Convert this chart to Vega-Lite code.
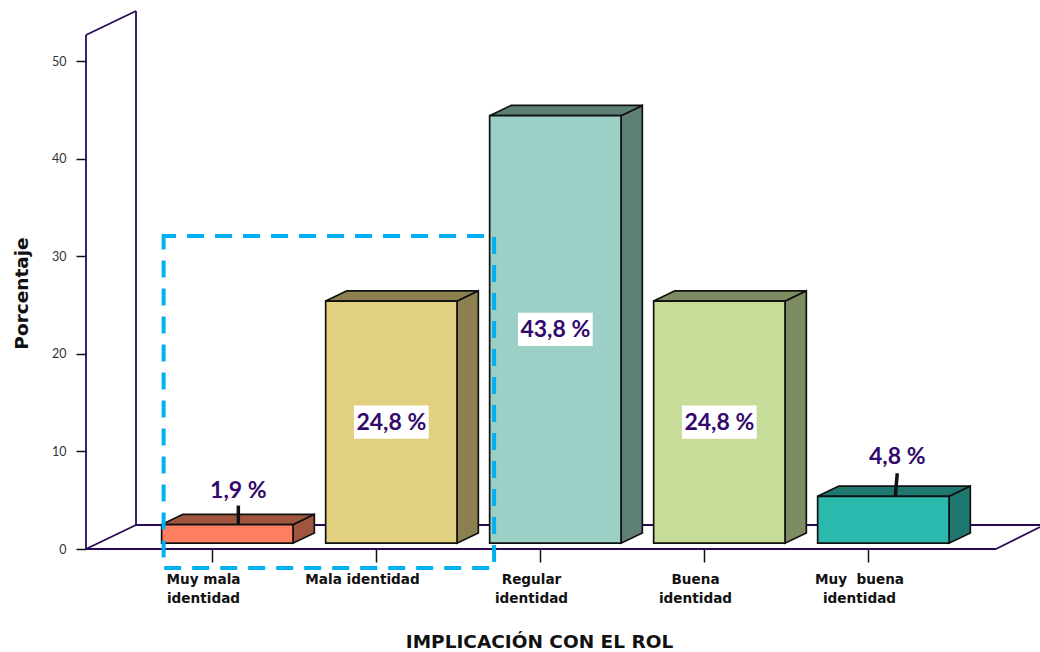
{
  "$schema": "https://vega.github.io/schema/vega-lite/v6.json",
  "width": 1040,
  "height": 652,
  "padding": 0,
  "autosize": {"type": "none"},
  "background": "white",
  "config": {"view": {"stroke": null}},
  "datasets": {
    "barras": [
      {"identidad": "Muy mala identidad", "porcentaje": 1.9},
      {"identidad": "Mala identidad", "porcentaje": 24.8},
      {"identidad": "Regular identidad", "porcentaje": 43.8},
      {"identidad": "Buena identidad", "porcentaje": 24.8},
      {"identidad": "Muy buena identidad", "porcentaje": 4.8}
    ]
  },
  "layer": [
    {
      "data": {"values": [{}]},
      "layer": [
        {
          "mark": {"type": "rule", "stroke": "#2a0a55", "strokeWidth": 1.8},
          "encoding": {
            "x": {"datum": 0.2317, "type": "quantitative"},
            "y": {"datum": 0, "type": "quantitative"},
            "y2": {"datum": 52.66}
          }
        },
        {
          "mark": {"type": "rule", "stroke": "#2a0a55", "strokeWidth": 1.8},
          "encoding": {
            "x": {"datum": 0.2317, "type": "quantitative"}, "x2": {"datum": 0.5366},
            "y": {"datum": 52.66, "type": "quantitative"}, "y2": {"datum": 55.12}
          }
        },
        {
          "mark": {"type": "rule", "stroke": "#2a0a55", "strokeWidth": 1.8},
          "encoding": {
            "x": {"datum": 0.5366, "type": "quantitative"},
            "y": {"datum": 2.459, "type": "quantitative"}, "y2": {"datum": 55.12}
          }
        },
        {
          "mark": {"type": "rule", "stroke": "#2a0a55", "strokeWidth": 1.8},
          "encoding": {
            "x": {"datum": 0.2317, "type": "quantitative"}, "x2": {"datum": 0.5366},
            "y": {"datum": 0, "type": "quantitative"}, "y2": {"datum": 2.459}
          }
        },
        {
          "mark": {"type": "rule", "stroke": "#2a0a55", "strokeWidth": 1.8},
          "encoding": {
            "x": {"datum": 0.5366, "type": "quantitative"}, "x2": {"datum": 6.0488},
            "y": {"datum": 2.459, "type": "quantitative"}
          }
        },
        {
          "mark": {"type": "rule", "stroke": "#2a0a55", "strokeWidth": 1.8},
          "encoding": {
            "x": {"datum": 0.2317, "type": "quantitative"}, "x2": {"datum": 5.7805},
            "y": {"datum": 0, "type": "quantitative"}
          }
        },
        {
          "mark": {"type": "rule", "stroke": "#2a0a55", "strokeWidth": 1.8},
          "encoding": {
            "x": {"datum": 5.7805, "type": "quantitative"}, "x2": {"datum": 6.0488},
            "y": {"datum": 0, "type": "quantitative"}, "y2": {"datum": 2.254}
          }
        }
      ]
    },
    {
      "data": {"name": "barras"},
      "transform": [
        {"window": [{"op": "row_number", "as": "orden"}]},
        {"calculate": "datum.orden - 0.307", "as": "izq"},
        {"calculate": "datum.orden + 0.494", "as": "der"},
        {"calculate": "0.6", "as": "base"},
        {"calculate": "datum.base + datum.porcentaje", "as": "tope"},
        {"calculate": "replace(format(datum.porcentaje, '.1f'), '.', ',') + ' %'", "as": "etiqueta"},
        {"calculate": "(datum.izq + datum.der) / 2", "as": "centro"},
        {"calculate": "(datum.base + datum.tope) / 2", "as": "medio"}
      ],
      "layer": [
        {
          "transform": [
            {"calculate": "[0, 1]", "as": "t"},
            {"flatten": ["t"]},
            {"calculate": "datum.der + datum.t * 0.13", "as": "fx"},
            {"calculate": "datum.tope + datum.t * 1.05", "as": "fy"},
            {"calculate": "datum.base + datum.t * 1.05", "as": "fy2"}
          ],
          "mark": {"type": "area", "stroke": "#111111", "strokeWidth": 1.7, "opacity": 1},
          "encoding": {
            "x": {"field": "fx", "type": "quantitative"},
            "y": {"field": "fy", "type": "quantitative", "stack": null},
            "y2": {"field": "fy2"},
            "color": {
              "field": "identidad", "type": "nominal", "legend": null,
              "scale": {
                "domain": ["Muy mala identidad", "Mala identidad", "Regular identidad", "Buena identidad", "Muy buena identidad"],
                "range": ["#a05540", "#8c8050", "#5e7f76", "#7e8c63", "#1e7870"]
              }
            }
          }
        },
        {
          "transform": [
            {"calculate": "[0, 1]", "as": "t"},
            {"flatten": ["t"]},
            {"calculate": "datum.izq + datum.t * 0.13", "as": "fx"},
            {"calculate": "datum.der + datum.t * 0.13", "as": "fx2"},
            {"calculate": "datum.tope + datum.t * 1.05", "as": "fy"}
          ],
          "mark": {"type": "area", "orient": "horizontal", "stroke": "#111111", "strokeWidth": 1.7, "opacity": 1},
          "encoding": {
            "y": {"field": "fy", "type": "quantitative"},
            "x": {"field": "fx", "type": "quantitative", "stack": null},
            "x2": {"field": "fx2"},
            "color": {
              "field": "identidad", "type": "nominal", "legend": null,
              "scale": {
                "domain": ["Muy mala identidad", "Mala identidad", "Regular identidad", "Buena identidad", "Muy buena identidad"],
                "range": ["#a05540", "#8c8050", "#5e7f76", "#7e8c63", "#1e7870"]
              }
            }
          }
        },
        {
          "mark": {"type": "rect", "stroke": "#111111", "strokeWidth": 1.7, "opacity": 1},
          "encoding": {
            "x": {
              "field": "izq", "type": "quantitative",
              "scale": {"domain": [-0.2927, 6.0488], "nice": false, "zero": false},
              "axis": {
                "orient": "bottom", "offset": -103, "domain": false, "grid": false,
                "values": [1, 2, 3, 4, 5],
                "tickSize": 13, "tickColor": "#111111", "tickWidth": 1.5,
                "labelExpr": "split(['Muy mala|identidad','Mala identidad','Regular|identidad','Buena|identidad','Muy\u00a0 buena|identidad'][datum.value-1],'|')",
                "labelFont": "DejaVu Sans", "labelFontWeight": "bold", "labelFontSize": 13.6, "labelColor": "#111111",
                "labelLineHeight": 19, "labelPadding": 10, "labelOverlap": false,
                "labelOffset": {"expr": "datum.value == 2 ? -14 : -9"},
                "title": "IMPLICACIÓN CON EL ROL",
                "titleFont": "DejaVu Sans", "titleFontWeight": "bold", "titleFontSize": 18.5, "titleColor": "#111111",
                "titleX": 539, "titleY": 92, "titleBaseline": "middle", "titleAlign": "center"
              }
            },
            "x2": {"field": "der"},
            "y": {
              "field": "tope", "type": "quantitative",
              "scale": {"domain": [-10.553, 56.25], "nice": false, "zero": false},
              "axis": {
                "orient": "left", "offset": -86, "domain": false, "grid": false,
                "values": [0, 10, 20, 30, 40, 50],
                "tickSize": 10, "tickColor": "#111111", "tickWidth": 1.5,
                "labelFont": "Lato", "labelFontSize": 12.5, "labelColor": "#333333", "labelPadding": 10,
                "title": "Porcentaje",
                "titleFont": "DejaVu Sans", "titleFontWeight": "bold", "titleFontSize": 18.5, "titleColor": "#111111",
                "titleX": -65, "titleY": 293, "titleBaseline": "middle", "titleAlign": "center", "titleAngle": -90
              }
            },
            "y2": {"field": "base"},
            "fill": {
              "field": "identidad", "type": "nominal", "legend": null,
              "scale": {
                "domain": ["Muy mala identidad", "Mala identidad", "Regular identidad", "Buena identidad", "Muy buena identidad"],
                "range": ["#ff7f62", "#e0d080", "#9ccfc6", "#c8dc9a", "#2ab9ac"]
              }
            }
          }
        },
        {
          "transform": [
            {"filter": "datum.porcentaje > 10"},
            {"calculate": "datum.centro - 0.228", "as": "cx"},
            {"calculate": "datum.centro + 0.228", "as": "cx2"},
            {"calculate": "datum.medio - 1.7", "as": "cy"},
            {"calculate": "datum.medio + 1.7", "as": "cy2"}
          ],
          "mark": {"type": "rect", "fill": "white"},
          "encoding": {
            "x": {"field": "cx", "type": "quantitative"},
            "x2": {"field": "cx2"},
            "y": {"field": "cy", "type": "quantitative"},
            "y2": {"field": "cy2"}
          }
        },
        {
          "transform": [{"filter": "datum.porcentaje > 10"}],
          "mark": {"type": "text", "font": "Lato", "fontWeight": "bold", "fontSize": 23, "fill": "#330a6b", "baseline": "middle", "align": "center", "dy": 1},
          "encoding": {
            "x": {"field": "centro", "type": "quantitative"},
            "y": {"field": "medio", "type": "quantitative"},
            "text": {"field": "etiqueta"}
          }
        },
        {
          "transform": [
            {"filter": "datum.porcentaje < 10"},
            {"calculate": "datum.centro + 0.067 + (datum.porcentaje > 3 ? 0.018 : 0)", "as": "lx"},
            {"calculate": "datum.centro + 0.067 + (datum.porcentaje > 3 ? 0.006 : 0)", "as": "lx2"},
            {"calculate": "datum.tope + 0.05", "as": "ly2"},
            {"calculate": "datum.tope + (datum.porcentaje > 3 ? 2.36 : 1.95)", "as": "ly"}
          ],
          "mark": {"type": "rule", "stroke": "#111111", "strokeWidth": 3.5},
          "encoding": {
            "x": {"field": "lx", "type": "quantitative"},
            "x2": {"field": "lx2"},
            "y": {"field": "ly", "type": "quantitative"},
            "y2": {"field": "ly2"}
          }
        },
        {
          "transform": [
            {"filter": "datum.porcentaje < 10"},
            {"calculate": "datum.centro + 0.067 + (datum.porcentaje > 3 ? 0.018 : 0)", "as": "tx"},
            {"calculate": "datum.tope + (datum.porcentaje > 3 ? 4.13 : 3.55)", "as": "ty"}
          ],
          "mark": {"type": "text", "font": "Lato", "fontWeight": "bold", "fontSize": 23, "fill": "#330a6b", "baseline": "middle", "align": "center", "dy": 1},
          "encoding": {
            "x": {"field": "tx", "type": "quantitative"},
            "y": {"field": "ty", "type": "quantitative"},
            "text": {"field": "etiqueta"}
          }
        }
      ]
    },
    {
      "data": {"values": [{}]},
      "mark": {"type": "rect", "fill": null, "filled": false, "stroke": "#00b0f0", "strokeWidth": 4, "strokeDash": [17, 11], "strokeDashOffset": 4.6, "opacity": 1},
      "encoding": {
        "x": {"datum": 0.705, "type": "quantitative"},
        "x2": {"datum": 2.72},
        "y": {"datum": 32.07, "type": "quantitative"},
        "y2": {"datum": -1.95}
      }
    }
  ]
}
